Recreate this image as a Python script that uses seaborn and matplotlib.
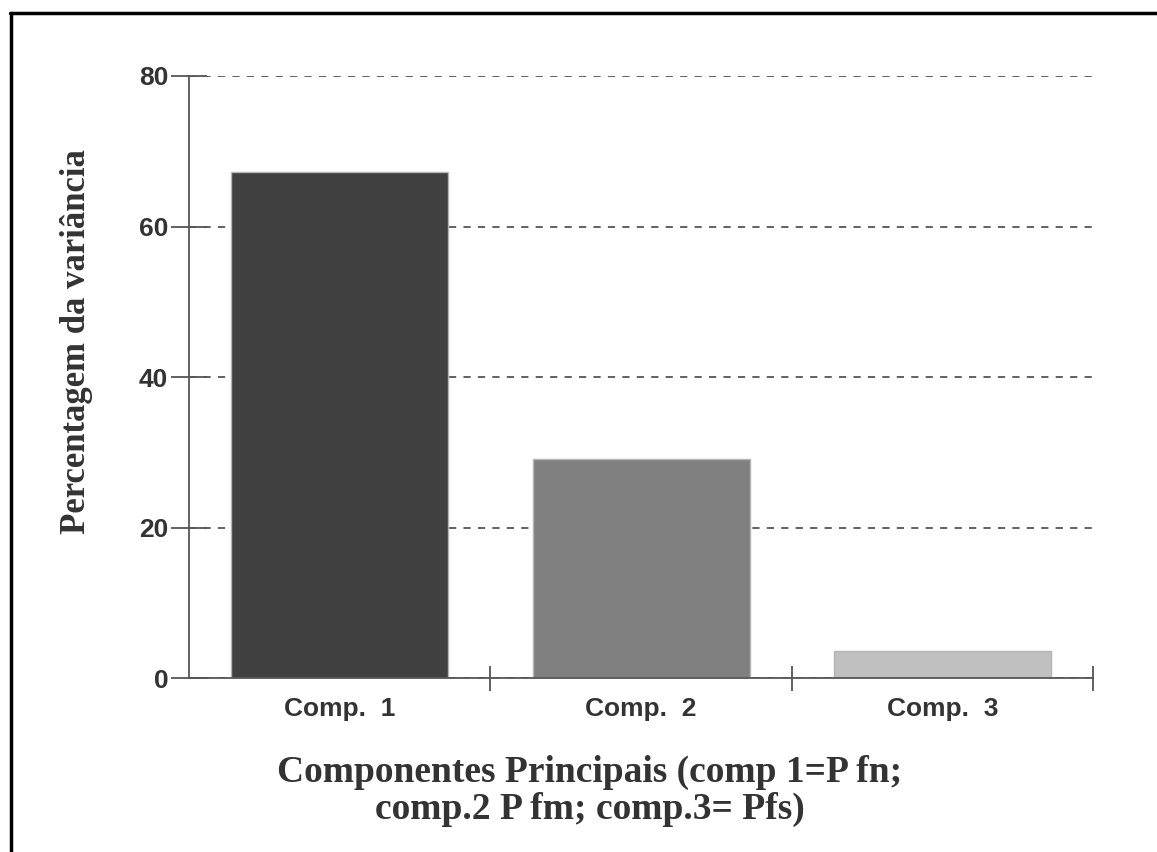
import matplotlib
matplotlib.use('Agg')
import matplotlib.pyplot as plt
import seaborn as sns
from matplotlib.lines import Line2D

sns.set_style('white')
plt.rcParams['font.family'] = ['Liberation Sans', 'DejaVu Sans']

# dados
componentes = ['Comp.  1', 'Comp.  2', 'Comp.  3']
variancia = [67.2, 29.1, 3.6]
cores = ['#404040', '#808080', '#c0c0c0']
y_ticks = [0, 20, 40, 60, 80]

fig = plt.figure(figsize=(11.57, 8.52), dpi=100)
ax = fig.add_axes([0.1634, 0.2042, 0.7813, 0.7066])

# grade tracejada por baixo das barras
for v in y_ticks:
    ax.axhline(v, color='#555555', lw=1.3, ls=(0, (4, 4)), zorder=0)

sns.barplot(x=componentes, y=variancia, hue=componentes, palette=cores,
            legend=False, width=0.72, edgecolor='#b5b5b5', linewidth=1,
            ax=ax, zorder=2)

ax.set_xlim(-0.5, 2.5)
ax.set_ylim(0, 80)
ax.set_xlabel('')
ax.set_ylabel('')

for s in ['top', 'right']:
    ax.spines[s].set_visible(False)
for s in ['left', 'bottom']:
    ax.spines[s].set_color('#555555')
    ax.spines[s].set_linewidth(1.3)

ax.set_yticks(y_ticks)
ax.set_yticklabels([str(v) for v in y_ticks], fontsize=19, fontweight='bold',
                   color='#333333')
ax.tick_params(axis='y', left=True, direction='inout', length=26, width=1.3,
               color='#555555', pad=2)

ax.set_xticks([0, 1, 2])
ax.set_xticklabels(componentes, fontsize=19, fontweight='bold', color='#333333')
ax.set_xticks([0.5, 1.5, 2.5], minor=True)
ax.tick_params(axis='x', which='major', bottom=True, length=0, pad=14)
ax.tick_params(axis='x', which='minor', bottom=True, direction='inout',
               length=18, width=1.3, color='#555555')

fig.text(77 / 1157, 1 - 342 / 852, 'Percentagem da variância', rotation=90,
         ha='center', va='center', fontsize=25, fontweight='bold',
         family='Liberation Serif', color='#333333')
fig.text(590 / 1157, 1 - 791 / 852,
         'Componentes Principais (comp 1=P fn;\ncomp.2 P fm; comp.3= Pfs)',
         ha='center', va='center', multialignment='center', fontsize=27,
         fontweight='bold', family='Liberation Serif', color='#333333',
         linespacing=1.08)

# moldura (só topo e esquerda visíveis)
fig.add_artist(Line2D([10 / 1157, 1], [1 - 12.5 / 852] * 2, color='black',
                      lw=2.5, transform=fig.transFigure))
fig.add_artist(Line2D([10.5 / 1157] * 2, [0, 1 - 12.5 / 852], color='black',
                      lw=2.5, transform=fig.transFigure))

fig.savefig('out.png', dpi=100)
